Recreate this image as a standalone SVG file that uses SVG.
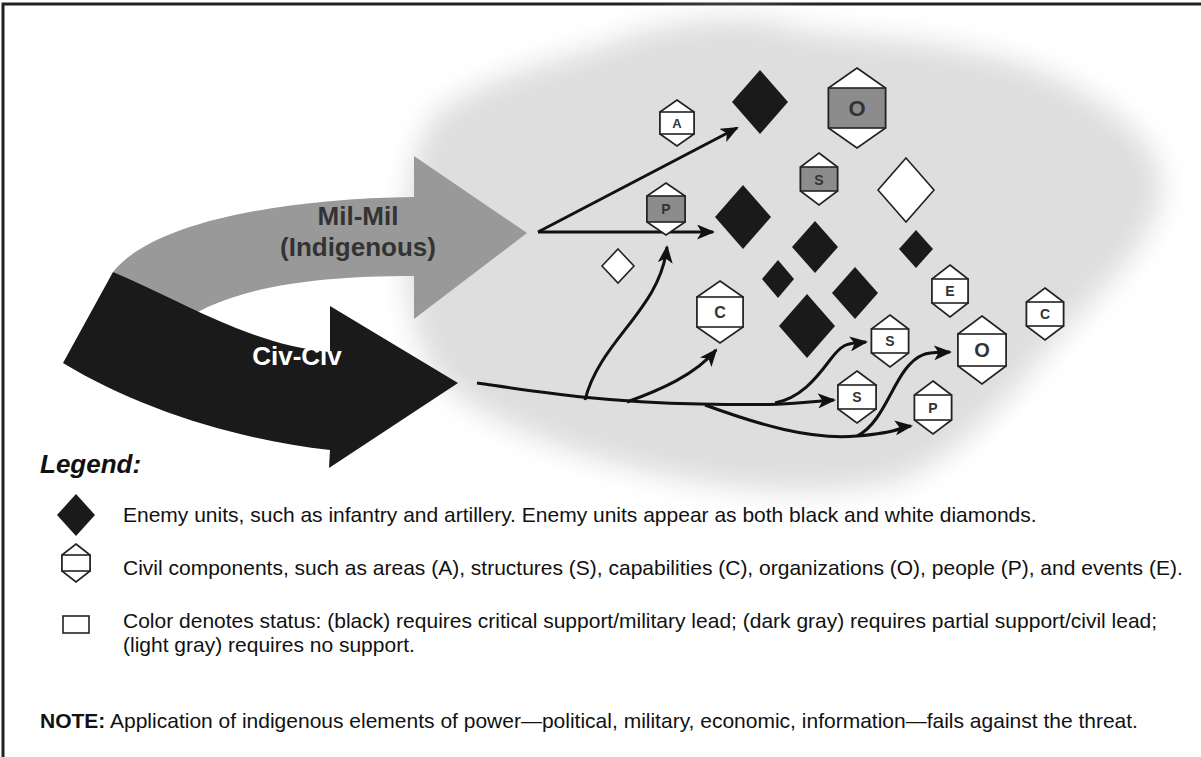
<svg xmlns="http://www.w3.org/2000/svg" width="1201" height="757" viewBox="0 0 1201 757">
<defs>
<filter id="blur" x="-20%" y="-20%" width="140%" height="140%"><feGaussianBlur stdDeviation="14"/></filter>
<marker id="ah" markerUnits="userSpaceOnUse" markerWidth="19" markerHeight="15" refX="16" refY="7.5" orient="auto"><path d="M0,0 L18,7.5 L0,15 L4.5,7.5 z" fill="#111"/></marker>
<style>
.lbl{font-family:"Liberation Sans",Arial,sans-serif;}
.txt{font-family:"Liberation Sans",Arial,sans-serif;font-size:21px;fill:#111;}
.hex{fill:#fff;stroke:#222;stroke-width:1.6;}
.bw{fill:#fff;stroke:#222;stroke-width:1.6;}
.bg{fill:#8c8c8c;stroke:#222;stroke-width:1.6;}
.let{font-family:"Liberation Sans",Arial,sans-serif;font-weight:bold;fill:#333;text-anchor:middle;}
.blk{fill:#1a1a1a;}
.wht{fill:#fff;stroke:#222;stroke-width:1.6;}
.con{fill:none;stroke:#111;stroke-width:3;marker-end:url(#ah);}
</style>
</defs>
<rect width="1201" height="757" fill="#fff"/>
<path d="M3,757 L3,4 L1201,4" fill="none" stroke="#222" stroke-width="3"/>
<path id="cloud" d="M430,120 C470,80 560,60 620,40 C660,20 760,10 800,30 C880,40 980,40 1060,80 C1120,110 1170,150 1160,200 C1150,250 1090,300 1040,360 C1000,410 950,460 900,480 C820,500 720,490 640,470 C560,450 480,420 440,380 C400,330 390,200 430,120 Z" fill="#dedede" filter="url(#blur)"/>
<g id="milmil">
<path d="M113,272 C150,225 270,199 414,197 L414,156 L527,233 L414,319 L414,276 C300,276 220,290 170,330 Z" fill="#999"/>
<text class="lbl" x="358" y="225" font-size="26" font-weight="bold" fill="#333" text-anchor="middle">Mil-Mil</text>
<text class="lbl" x="358" y="256" font-size="26" font-weight="bold" fill="#333" text-anchor="middle">(Indigenous)</text>
</g>
<g id="civciv">
<path d="M113,272 C180,300 250,345 330,352 L330,306 L458,383 L329,468 L330,450 C240,440 140,410 63,363 Z" fill="#1a1a1a"/>
<text class="lbl" x="297" y="365" font-size="26" font-weight="bold" fill="#fff" text-anchor="middle">Civ-Civ</text>
</g>
<g id="connectors">
<path class="con" d="M538,232 L737,128"/>
<path class="con" d="M538,232 L713,232"/>
<path class="con" d="M477,383 C540,392 600,402 700,404 S800,402 834,400"/>
<path class="con" d="M585,400 C600,340 660,310 667,247"/>
<path class="con" d="M627,402 C660,390 695,375 716,350"/>
<path class="con" d="M775,403 C800,398 815,380 830,360 S850,344 866,342"/>
<path class="con" d="M705,405 C760,425 810,440 857,436 S895,428 911,426"/>
<path class="con" d="M857,436 C880,425 890,390 905,370 S930,353 950,352"/>
</g>
<g id="enemy-black">
<polygon class="blk" points="760,70 788,102 760,134 732,102"/>
<polygon class="blk" points="743,185 771,217 743,249 715,217"/>
<polygon class="blk" points="815,221 838,247 815,273 792,247"/>
<polygon class="blk" points="778,260 794,279 778,298 762,279"/>
<polygon class="blk" points="855,267 878,293 855,319 832,293"/>
<polygon class="blk" points="807,294 835,326 807,358 779,326"/>
<polygon class="blk" points="916,230 933,249 916,268 899,249"/>
</g>
<g id="enemy-white">
<polygon class="wht" points="906,158 934,190 906,222 878,190"/>
<polygon class="wht" points="618,249 634,266 618,283 602,266"/>
</g>
<g id="civ-A">
<polygon class="hex" points="677,100 694,112 694,134 677,146 660,134 660,112"/>
<rect class="bw" x="660" y="112" width="34" height="22"/>
<text class="let" x="677" y="128" font-size="13">A</text>
</g>
<g id="civ-O1">
<polygon class="hex" points="857,68 885.5,88 885.5,128 857,148 828.5,128 828.5,88"/>
<rect class="bg" x="828.5" y="88" width="57" height="40"/>
<text class="let" x="857" y="116" font-size="22">O</text>
</g>
<g id="civ-S1">
<polygon class="hex" points="819,153 837.5,167 837.5,191 819,205 800.5,191 800.5,167"/>
<rect class="bg" x="800.5" y="167" width="37" height="24"/>
<text class="let" x="819" y="184.5" font-size="14">S</text>
</g>
<g id="civ-P1">
<polygon class="hex" points="666,183 685,196 685,222 666,235 647,222 647,196"/>
<rect class="bg" x="647" y="196" width="38" height="26"/>
<text class="let" x="666" y="214" font-size="14">P</text>
</g>
<g id="civ-C1">
<polygon class="hex" points="720,281 743,297 743,327 720,343 697,327 697,297"/>
<rect class="bw" x="697" y="297" width="46" height="30"/>
<text class="let" x="720" y="318" font-size="16">C</text>
</g>
<g id="civ-S2">
<polygon class="hex" points="890,315 908.5,329 908.5,353 890,367 871.5,353 871.5,329"/>
<rect class="bw" x="871.5" y="329" width="37" height="24"/>
<text class="let" x="890" y="346" font-size="14">S</text>
</g>
<g id="civ-S3">
<polygon class="hex" points="857,371 876,385 876,409 857,423 838,409 838,385"/>
<rect class="bw" x="838" y="385" width="38" height="24"/>
<text class="let" x="857" y="402" font-size="14">S</text>
</g>
<g id="civ-E">
<polygon class="hex" points="950,265 968,279 968,303 950,317 932,303 932,279"/>
<rect class="bw" x="932" y="279" width="36" height="24"/>
<text class="let" x="950" y="296" font-size="14">E</text>
</g>
<g id="civ-C2">
<polygon class="hex" points="1045,288 1063.5,302 1063.5,326 1045,340 1026.5,326 1026.5,302"/>
<rect class="bw" x="1026.5" y="302" width="37" height="24"/>
<text class="let" x="1045" y="319" font-size="14">C</text>
</g>
<g id="civ-O2">
<polygon class="hex" points="982,316 1006,334 1006,366 982,384 958,366 958,334"/>
<rect class="bw" x="958" y="334" width="48" height="32"/>
<text class="let" x="982" y="357" font-size="20">O</text>
</g>
<g id="civ-P2">
<polygon class="hex" points="933,381 951.5,395 951.5,420 933,434 914.5,420 914.5,395"/>
<rect class="bw" x="914.5" y="395" width="37" height="25"/>
<text class="let" x="933" y="413" font-size="14">P</text>
</g>
<g id="legend">
<text class="lbl" x="40" y="473" font-size="26" font-weight="bold" font-style="italic" fill="#111">Legend:</text>
<polygon class="blk" points="76,494 95,515 76,536 57,515"/>
<text class="txt" x="123" y="522">Enemy units, such as infantry and artillery. Enemy units appear as both black and white diamonds.</text>
<polygon class="hex" points="76,544 90,555 90,571 76,582 62,571 62,555"/>
<rect class="bw" x="62" y="555" width="28" height="16"/>
<text class="txt" x="123" y="575">Civil components, such as areas (A), structures (S), capabilities (C), organizations (O), people (P), and events (E).</text>
<rect class="bw" x="63" y="616" width="26" height="17"/>
<text class="txt" x="123" y="628">Color denotes status: (black) requires critical support/military lead; (dark gray) requires partial support/civil lead;</text>
<text class="txt" x="123" y="652">(light gray) requires no support.</text>
</g>
<g id="note">
<text class="txt" x="40" y="728"><tspan font-weight="bold">NOTE:</tspan> Application of indigenous elements of power—political, military, economic, information—fails against the threat.</text>
</g>
</svg>
